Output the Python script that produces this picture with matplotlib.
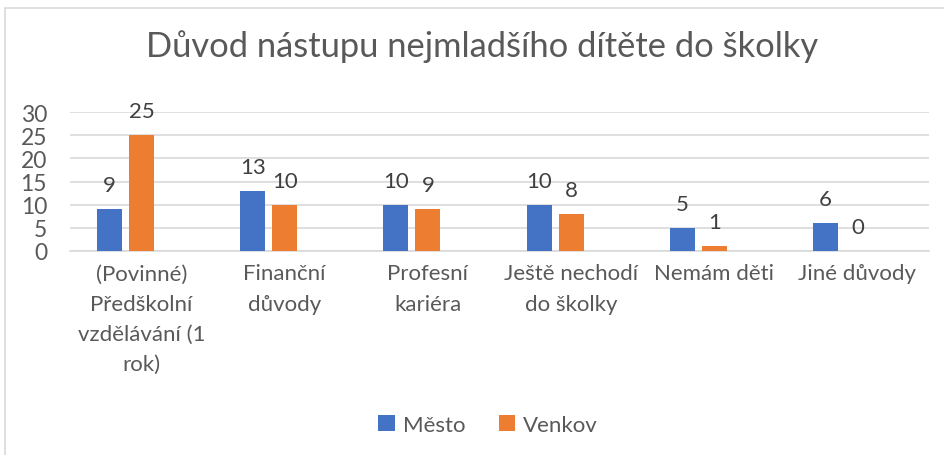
import matplotlib
matplotlib.use("Agg")
import matplotlib.pyplot as plt
import numpy as np
from matplotlib.patches import Rectangle

categories = ["(Povinné)\nPředškolní\nvzdělávání (1\nrok)", "Finanční\ndůvody", "Profesní\nkariéra",
              "Ještě nechodí\ndo školky", "Nemám děti", "Jiné důvody"]
mesto = [9, 13, 10, 10, 5, 6]
venkov = [25, 10, 9, 8, 1, 0]
series_names = ["Město", "Venkov"]
title = "Důvod nástupu nejmladšího dítěte do školky"

blue = "#4472C4"
orange = "#ED7D31"
txt = "#595959"
grid = "#D9D9D9"

plt.rcParams['font.family'] = ['Lato', 'DejaVu Sans']

fig = plt.figure(figsize=(9.45, 4.56), dpi=100)
W, H = 945, 456
fig.patches.append(Rectangle((5 / W, -0.1), 1.2, 1 - 9 / H + 0.1, transform=fig.transFigure,
                             fill=False, edgecolor="#D9D9D9", linewidth=1.2))

ax = fig.add_axes([70 / W, 1 - 252 / H, (929 - 70) / W, (252 - 113) / H])
x = np.arange(len(categories))
bw = 0.1746
off = 0.2235
b1 = ax.bar(x - off, mesto, bw, color=blue, label=series_names[0], zorder=3)
b2 = ax.bar(x, venkov, bw, color=orange, label=series_names[1], zorder=3)
for bars, vals in ((b1, mesto), (b2, venkov)):
    for r, v in zip(bars, vals):
        ax.annotate(str(v), (r.get_x() + r.get_width() / 2, v), xytext=(0, 13),
                    textcoords="offset points", ha="center", va="baseline",
                    fontsize=16, color="#404040")

ax.set_xlim(-0.5, len(categories) - 0.5)
ax.set_ylim(0, 30)
ax.set_yticks(range(0, 31, 5))
ax.yaxis.grid(True, color=grid, linewidth=1.2, zorder=0)
ax.set_axisbelow(True)
for s in ["top", "right", "left"]:
    ax.spines[s].set_visible(False)
ax.spines["bottom"].set_color(grid)
ax.spines["bottom"].set_linewidth(1.2)
ax.tick_params(axis="y", length=0, labelsize=16.5, labelcolor=txt, pad=16.5)
ax.tick_params(axis="x", length=0, labelsize=16, labelcolor=txt, pad=9)
ax.set_xticks(x)
ax.set_xticklabels(categories, linespacing=1.63)

fig.text(482 / W, 1 - 47 / H, title, ha="center", va="center", fontsize=24.8, color=txt)

leg = fig.legend(handles=[b1, b2], labels=series_names, loc="center",
                 bbox_to_anchor=(488 / W, 1 - 426 / H), ncol=2, frameon=False,
                 fontsize=16, labelcolor=txt, handlelength=0.75, handleheight=0.75,
                 handletextpad=0.35, columnspacing=1.5)

fig.savefig("out.png", dpi=100, facecolor="white")
